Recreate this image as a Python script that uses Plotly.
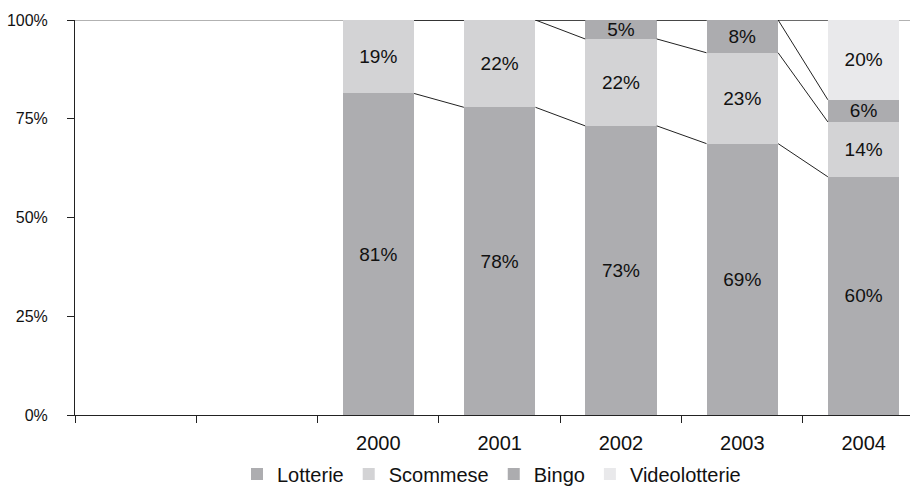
import plotly.graph_objects as go

years = [2000, 2001, 2002, 2003, 2004]
series_names = ["Lotterie", "Scommese", "Bingo", "Videolotterie"]
lotterie = [81.4, 77.9, 73.2, 68.7, 60.3]
scommese = [18.6, 22.1, 22.0, 23.0, 13.9]
bingo = [0.0, 0.0, 4.8, 8.3, 5.6]
videolotterie = [0.0, 0.0, 0.0, 0.0, 20.2]
colors = ["#adadb0", "#d3d3d5", "#acacaf", "#e9e9eb"]
yticks = [0, 25, 50, 75, 100]

values = [lotterie, scommese, bingo, videolotterie]
BAR_W = 0.59
FONT = "Liberation Sans, Arial, Helvetica, sans-serif"

fig = go.Figure()
for name, vals, col in zip(series_names, values, colors):
    fig.add_trace(go.Bar(
        x=years, y=vals, name=name, width=BAR_W,
        marker=dict(color=col, line=dict(width=0)),
        text=[f"{round(v)}%" if v > 0 else "" for v in vals],
        textposition="inside", insidetextanchor="middle", textangle=0,
        constraintext="none",
        textfont=dict(family=FONT, size=19, color="#111111"),
        hoverinfo="skip",
    ))

# series lines connecting the top of each series between neighbouring bars
cum = [0.0] * len(years)
line_x, line_y = [], []
for vals in values:
    cum = [c + v for c, v in zip(cum, vals)]
    for i in range(len(years) - 1):
        line_x += [years[i] + BAR_W / 2, years[i + 1] - BAR_W / 2, None]
        line_y += [cum[i], cum[i + 1], None]
fig.add_trace(go.Scatter(x=line_x, y=line_y, mode="lines",
                         line=dict(color="#222222", width=1),
                         showlegend=False, hoverinfo="skip"))

# invisible trace to drive the tick-mark axis
boundaries = [years[0] - 2.5 + k for k in range(8)]
fig.add_trace(go.Scatter(x=[boundaries[0]], y=[0], xaxis="x2", mode="markers",
                         marker=dict(opacity=0), showlegend=False, hoverinfo="skip"))

xr = [years[0] - 2.5, years[0] - 2.5 + 835 / 121.33]

fig.update_layout(
    width=910, height=486,
    margin=dict(l=75, r=0, t=20, b=71),
    paper_bgcolor="white", plot_bgcolor="white",
    barmode="stack",
    font=dict(family=FONT, color="#111111"),
    xaxis=dict(range=xr, tickvals=years, ticktext=[str(y) for y in years],
               ticks="", showgrid=False, zeroline=False, showline=False,
               tickfont=dict(size=20), ticklabelstandoff=14, automargin=False),
    xaxis2=dict(range=xr, overlaying="x", anchor="y", side="bottom",
                tickvals=boundaries, showticklabels=False, ticks="outside",
                ticklen=7, tickcolor="#222222", tickwidth=1,
                showline=True, linecolor="#222222", linewidth=1,
                showgrid=False, zeroline=False, automargin=False),
    yaxis=dict(range=[0, 100], tickvals=yticks, ticktext=[f"{v}%" for v in yticks],
               ticks="outside", ticklen=7, tickcolor="#222222",
               showline=True, linecolor="#222222", linewidth=1,
               showgrid=False, zeroline=False, tickfont=dict(size=16),
               ticklabelstandoff=16, automargin=False),
    legend=dict(orientation="h", x=0.4988, xanchor="center", yref="container",
                y=(486 - 474) / 486, yanchor="middle",
                traceorder="normal", font=dict(size=20), itemwidth=30),
    shapes=[dict(type="line", xref="paper", yref="y", x0=0, x1=1, y0=100, y1=100,
                 line=dict(color="#666666", width=1), layer="below")],
)

fig.write_html("out.html")
